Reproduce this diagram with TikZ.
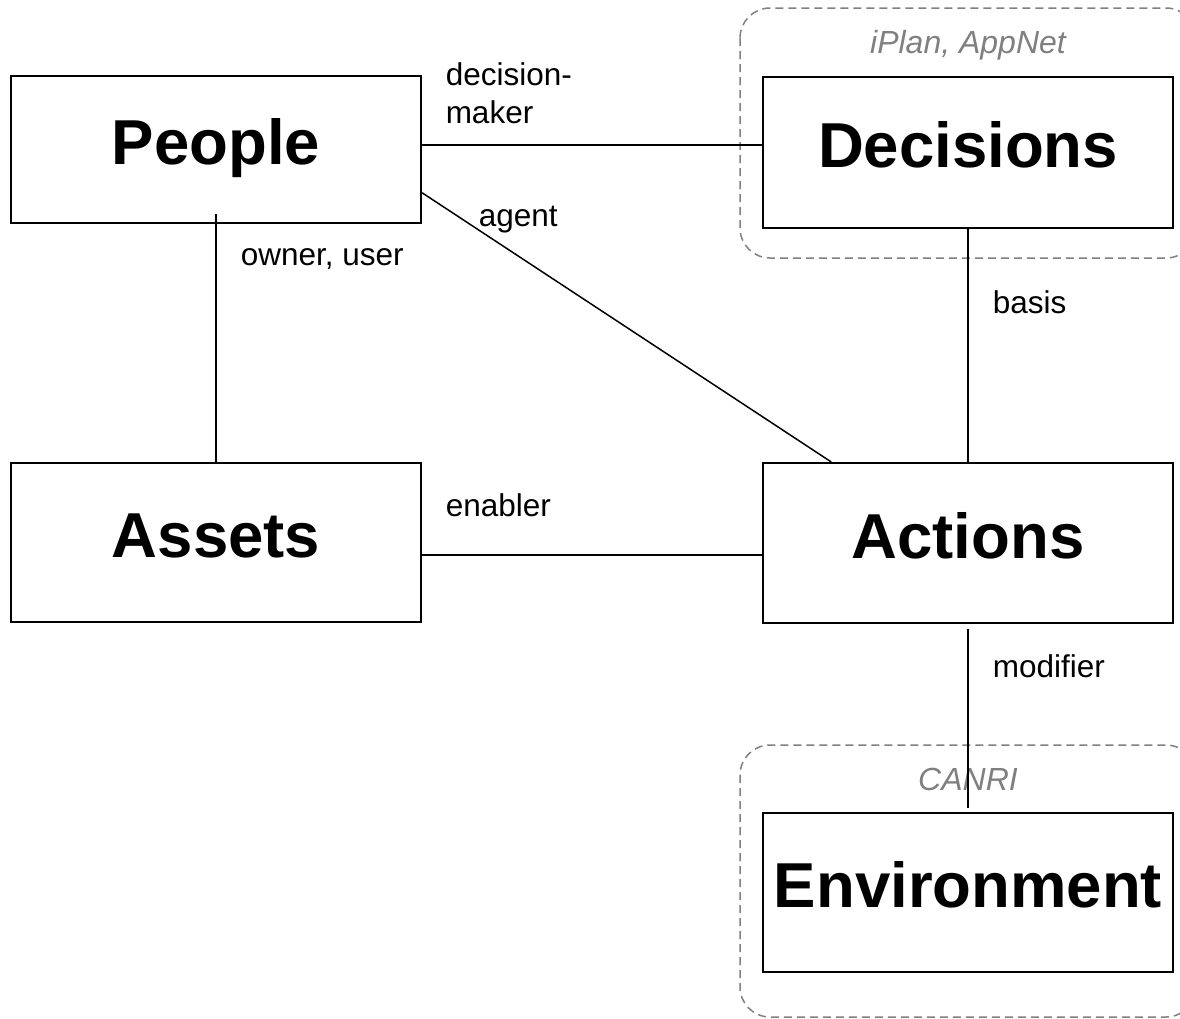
\documentclass[tikz,border=0pt]{standalone}
\usepackage{fontspec}
\setmainfont{Liberation Sans}
\usetikzlibrary{calc}

\begin{document}
\begin{tikzpicture}[x=1pt, y=-1pt, line width=1.5pt,
    entity/.style={draw, line width=2.2pt, inner sep=0pt, minimum width=410pt,
      font=\fontsize{63.5}{70}\selectfont\bfseries, text height=45.7pt, text depth=15.7pt},
    role/.style={inner sep=0pt, anchor=base west, font=\fontsize{31.5}{38}\selectfont},
    group/.style={draw=black!50, line width=1.5pt, dash pattern=on 8pt off 5pt, rounded corners=30pt},
    grouplabel/.style={inner sep=0pt, anchor=base, text=black!50, font=\fontsize{32}{36}\selectfont\itshape}]
    \useasboundingbox (0,0) rectangle (1180,1018);
    \clip (0,0) rectangle (1180,1018);
    % grupos tracejados
    \draw[group] (740,8) rectangle (1196,258);
    \draw[group] (740,745) rectangle (1196,1017);
    \node[grouplabel] (tools) at (968,53) {iPlan, AppNet};
    \node[grouplabel] (canri) at (968,790) {CANRI};
    % entidades
    \node[entity, minimum height=147pt] (people) at (216,149.5) {People};
    \node[entity, minimum height=151pt] (decisions) at (968,152.5) {Decisions};
    \node[entity, minimum height=159pt] (assets) at (216,542.5) {Assets};
    \node[entity, minimum height=160pt] (actions) at (968,543) {Actions};
    \node[entity, minimum height=159pt] (environment) at (968,892.5) {Environment};
    % ligacoes
    \draw ([yshift=4.5pt]people.east) -- ([yshift=7.5pt]decisions.west);
    \draw ($(people.north east)!0.79!(people.south east)$) -- ($(actions.north west)!0.168!(actions.north east)$);
    \draw ([yshift=10pt]people.south) -- (assets.north);
    \draw ([yshift=-12.5pt]assets.east) -- ([yshift=-12pt]actions.west);
    \draw (decisions.south) -- (actions.north);
    \draw ([yshift=-5pt]actions.south) -- ([yshift=4pt]environment.north);
    % papeis
    \node[role, anchor=north west, align=left] (maker) at (445,62.4) {decision-\\maker};
    \node[role] (agent) at (478,226) {agent};
    \node[role] (owner) at (240,265) {owner, user};
    \node[role] (enabler) at (445,516) {enabler};
    \node[role] (basis) at (992,313) {basis};
    \node[role] (modifier) at (992,677) {modifier};
\end{tikzpicture}
\end{document}
